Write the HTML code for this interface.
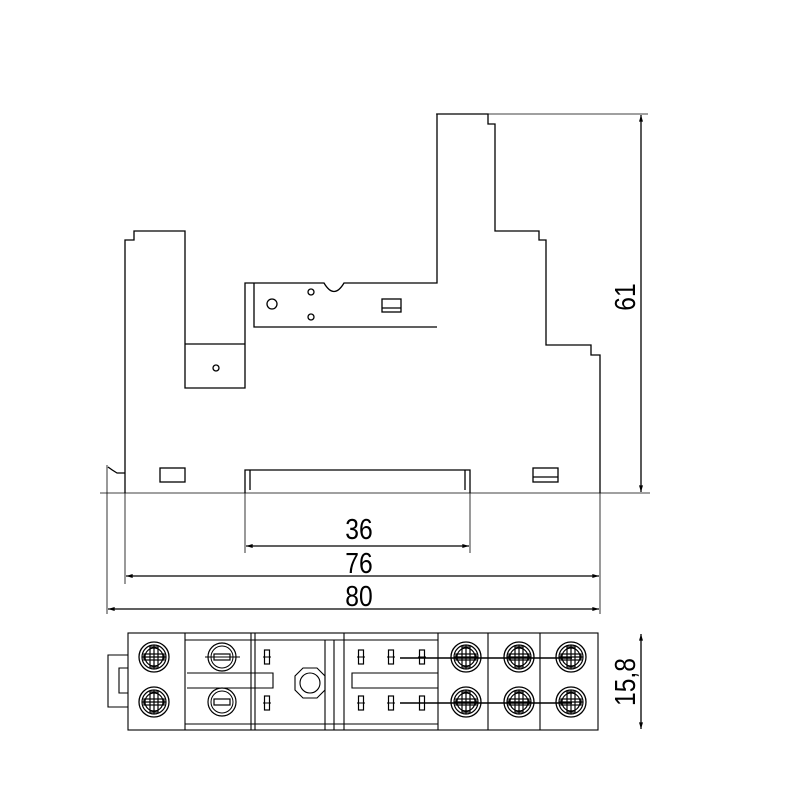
<!DOCTYPE html>
<html><head><meta charset="utf-8"><style>
html,body{margin:0;padding:0;background:#fff;}
svg{display:block;}
text{font-family:"Liberation Sans",sans-serif;fill:#000;}
</style></head><body>
<svg width="801" height="801" viewBox="0 0 801 801" xmlns="http://www.w3.org/2000/svg">
<defs>
<marker id="a" viewBox="0 0 10 6" refX="10" refY="3" markerWidth="10" markerHeight="4" orient="auto-start-reverse" markerUnits="userSpaceOnUse"><path d="M0,0 L10,3 L0,6 z" fill="#000"/></marker>
<g id="scr">
<circle r="15" fill="none" stroke="#000" stroke-width="1.3"/>
<circle r="12" fill="none" stroke="#000" stroke-width="1.2"/>
<circle r="9" fill="none" stroke="#000" stroke-width="1.2"/>
<rect x="-4" y="-10" width="8" height="20" fill="none" stroke="#000" stroke-width="1.2"/>
<rect x="-10" y="-3" width="20" height="6" fill="none" stroke="#000" stroke-width="1.2"/>
<line x1="0" y1="-12" x2="0" y2="12" stroke="#000" stroke-width="1.2"/>
<line x1="-12" y1="0" x2="12" y2="0" stroke="#000" stroke-width="1.2"/>
</g>
<g id="scr2">
<circle r="14" fill="none" stroke="#000" stroke-width="1.2"/>
<circle r="11" fill="none" stroke="#000"/>
<rect x="-8" y="-3" width="16" height="6" fill="none" stroke="#000" stroke-width="1.2"/>
</g>
<g id="pin"><rect x="-2.5" y="-7" width="5" height="14" fill="none" stroke="#000" stroke-width="1.2"/><line x1="-4" y1="0" x2="4" y2="0" stroke="#000"/></g>
</defs>
<g fill="none" stroke="#000" stroke-width="1.3">
<path d="M125,493 V240 H134 V231 H185 V388 H245 V283 H324 Q334,300 344,283 H437 V114 H488 V124 H495 V231 H539 V240 H546 V345 H591 V355 H600 V493"/>
<path d="M185,344 H245 M254,283 V327 H437"/>
<circle cx="272" cy="304" r="5"/>
<circle cx="311" cy="292" r="3"/>
<circle cx="311" cy="317" r="3"/>
<circle cx="216" cy="368" r="3"/>
<rect x="382" y="299" width="19" height="13"/>
<line x1="382" y1="308" x2="401" y2="308"/>
<rect x="160" y="468" width="25" height="14"/>
<rect x="533" y="468" width="25" height="14"/>
<line x1="533" y1="477" x2="558" y2="477"/>
<path d="M245,493 V470 H470 V493"/>
<path d="M250,470 V490 M465,470 V490"/>
<path d="M108,467 Q112,470 117,473 H125"/>
</g>
<g stroke="#000" stroke-width="0.8" fill="none">
<line x1="100" y1="493" x2="650" y2="493"/>
<line x1="436" y1="114" x2="648" y2="114"/>
<line x1="107" y1="465" x2="107" y2="614"/>
<line x1="125" y1="493" x2="125" y2="584"/>
<line x1="600" y1="493" x2="600" y2="614"/>
<line x1="245" y1="493" x2="245" y2="553"/>
<line x1="470" y1="493" x2="470" y2="553"/>
</g>
<g stroke="#000" stroke-width="1.3">
<line x1="641" y1="115" x2="641" y2="492" marker-start="url(#a)" marker-end="url(#a)"/>
<line x1="246" y1="546" x2="469" y2="546" marker-start="url(#a)" marker-end="url(#a)"/>
<line x1="126" y1="576" x2="599" y2="576" marker-start="url(#a)" marker-end="url(#a)"/>
<line x1="108" y1="609" x2="599" y2="609" marker-start="url(#a)" marker-end="url(#a)"/>
<line x1="641" y1="634" x2="641" y2="729" marker-start="url(#a)" marker-end="url(#a)"/>
</g>
<text transform="translate(359,539) scale(0.85,1)" font-size="29" text-anchor="middle">36</text>
<text transform="translate(359,573) scale(0.85,1)" font-size="29" text-anchor="middle">76</text>
<text transform="translate(359,606) scale(0.85,1)" font-size="29" text-anchor="middle">80</text>
<text transform="translate(635,297) rotate(-90) scale(0.85,1)" font-size="29" text-anchor="middle">61</text>
<text transform="translate(635,682) rotate(-90) scale(0.85,1)" font-size="29" text-anchor="middle">15,8</text>
<g fill="none" stroke="#000" stroke-width="1.1">
<rect x="128" y="633" width="470" height="97"/>
<path d="M128,655 H108 V707 H128 M128,668 H119 V693 H128"/>
<line x1="185" y1="633" x2="185" y2="730"/>
<line x1="251" y1="633" x2="251" y2="730"/>
<line x1="255" y1="633" x2="255" y2="730"/>
<line x1="325" y1="640" x2="325" y2="730"/>
<line x1="334" y1="640" x2="334" y2="730"/>
<line x1="344" y1="633" x2="344" y2="730"/>
<line x1="438" y1="633" x2="438" y2="730"/>
<line x1="488" y1="633" x2="488" y2="730"/>
<line x1="540" y1="633" x2="540" y2="730"/>
<line x1="185" y1="640" x2="438" y2="640"/>
<line x1="185" y1="724" x2="438" y2="724"/>
<path d="M187,673 H273 V688 H187 M438,673 H352 V688 H438"/>
<circle cx="310" cy="683" r="10"/>
<polygon points="303,668 317,668 325,676 325,690 317,698 303,698 295,690 295,676"/>
<line x1="400" y1="658" x2="572" y2="658" stroke-width="1.4"/>
<line x1="400" y1="703" x2="572" y2="703" stroke-width="1.4"/>
</g>
<use href="#scr" x="154" y="657"/><use href="#scr" x="154" y="702"/>
<use href="#scr" x="466" y="657"/><use href="#scr" x="466" y="702"/>
<use href="#scr" x="519" y="657"/><use href="#scr" x="519" y="702"/>
<use href="#scr" x="571" y="657"/><use href="#scr" x="571" y="702"/>
<use href="#scr2" x="222" y="657"/><use href="#scr2" x="222" y="702"/>
<line x1="205" y1="657" x2="240" y2="657" stroke="#000"/>
<use href="#pin" x="267" y="657"/><use href="#pin" x="267" y="703"/>
<use href="#pin" x="361" y="657"/><use href="#pin" x="361" y="703"/>
<use href="#pin" x="391" y="657"/><use href="#pin" x="391" y="703"/>
<use href="#pin" x="422" y="657"/><use href="#pin" x="422" y="703"/>
</svg>
</body></html>
